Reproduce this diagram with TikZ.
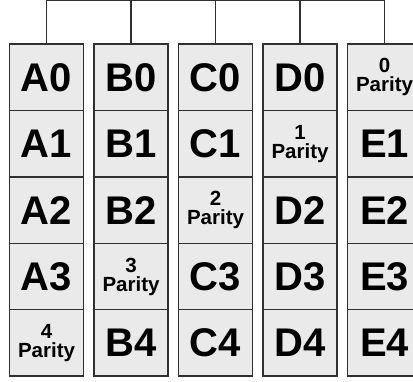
\documentclass[tikz,border=0pt]{standalone}
\usepackage{fontspec}
\setmainfont{Liberation Sans}
\usepackage{tikz}
\usetikzlibrary{positioning}
\definecolor{cellgray}{HTML}{EAEAEA}
\definecolor{edgegray}{HTML}{303030}

\begin{document}
\begin{tikzpicture}[x=1pt, y=1pt, node distance=66.4pt,
  cell/.style={rectangle, draw=edgegray, line width=1.4pt, fill=cellgray, minimum width=74pt, minimum height=66.4pt, inner sep=0pt, font=\fontsize{40}{40}\selectfont\bfseries},
  parity/.style={cell, align=center, font=\fontsize{20.5}{19}\selectfont\bfseries},
  wire/.style={draw=edgegray, line width=1.1pt}]
\clip (0,0) rectangle (413,381);
\coordinate (bus) at (0,380.2);
% column A
\node[cell] (a0) at (46.5,303.7) {A0};
\node[cell, below of=a0] (a1) {A1};
\node[cell, below of=a1] (a2) {A2};
\node[cell, below of=a2] (a3) {A3};
\node[parity, below of=a3] (a4) {4\\Parity};
% column B
\node[cell, right of=a0, node distance=84.5pt] (b0) {B0};
\node[cell, below of=b0] (b1) {B1};
\node[cell, below of=b1] (b2) {B2};
\node[parity, below of=b2] (b3) {3\\Parity};
\node[cell, below of=b3] (b4) {B4};
% column C
\node[cell, right of=b0, node distance=84.5pt] (c0) {C0};
\node[cell, below of=c0] (c1) {C1};
\node[parity, below of=c1] (c2) {2\\Parity};
\node[cell, below of=c2] (c3) {C3};
\node[cell, below of=c3] (c4) {C4};
% column D
\node[cell, right of=c0, node distance=84.5pt] (d0) {D0};
\node[parity, below of=d0] (d1) {1\\Parity};
\node[cell, below of=d1] (d2) {D2};
\node[cell, below of=d2] (d3) {D3};
\node[cell, below of=d3] (d4) {D4};
% column E
\node[parity, right of=d0, node distance=84.5pt] (e0) {0\\Parity};
\node[cell, below of=e0] (e1) {E1};
\node[cell, below of=e1] (e2) {E2};
\node[cell, below of=e2] (e3) {E3};
\node[cell, below of=e3] (e4) {E4};
% bus
\draw[wire] (a0.north) |- (bus -| e0.north) -- (e0.north);
\draw[wire] (b0.north) -- (b0.north |- bus);
\draw[wire] (c0.north) -- (c0.north |- bus);
\draw[wire] (d0.north) -- (d0.north |- bus);
\end{tikzpicture}
\end{document}
